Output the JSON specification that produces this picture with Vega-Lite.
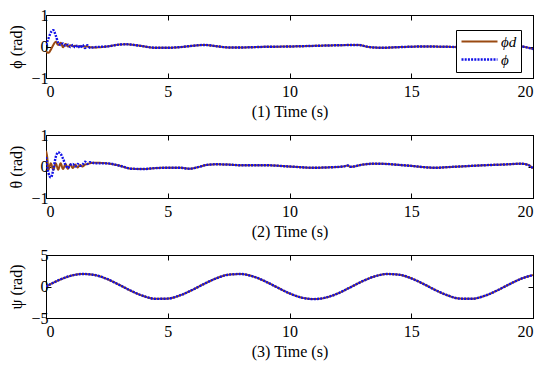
{
  "$schema": "https://vega.github.io/schema/vega-lite/v6.json",
  "background": "white",
  "padding": {"left": 8, "top": 6, "right": 6, "bottom": 4},
  "spacing": 6,
  "config": {
    "font": "Liberation Serif",
    "view": {"stroke": "black", "strokeWidth": 1},
    "axis": {
      "grid": false,
      "domainColor": "black",
      "tickColor": "black",
      "tickSize": -5,
      "labelColor": "black",
      "labelFont": "Liberation Serif",
      "labelFontSize": 16,
      "titleFont": "Liberation Serif",
      "titleFontSize": 16,
      "titleFontWeight": "normal",
      "titleColor": "black",
      "format": "d"
    },
    "legend": {
      "orient": "none",
      "title": null,
      "strokeColor": "black",
      "fillColor": "white",
      "padding": 4,
      "rowPadding": 2,
      "symbolType": "M-1,0H5",
      "symbolSize": 144,
      "symbolStrokeWidth": 2,
      "labelOffset": 26,
      "labelFont": "Liberation Serif",
      "labelFontStyle": "italic",
      "labelFontSize": 15,
      "labelColor": "black",
      "cornerRadius": 0
    }
  },
  "datasets": {
    "phi": [
      {"t": 0, "d": -0.15, "a": 0.05},
      {"t": 0.1, "d": -0.2, "a": 0.25},
      {"t": 0.2, "d": -0.1, "a": 0.45},
      {"t": 0.3, "d": 0.05, "a": 0.52},
      {"t": 0.4, "d": 0.15, "a": 0.35},
      {"t": 0.5, "d": 0.05, "a": 0.12},
      {"t": 0.6, "d": 0.12, "a": 0.05},
      {"t": 0.7, "d": -0.02, "a": 0.1},
      {"t": 0.8, "d": 0.08, "a": 0.02},
      {"t": 0.9, "d": 0.0, "a": 0.06},
      {"t": 1.0, "d": 0.04, "a": -0.02},
      {"t": 1.1, "d": 0.01, "a": 0.05},
      {"t": 1.2, "d": 0.02, "a": -0.03},
      {"t": 1.3, "d": 0.0, "a": 0.04},
      {"t": 1.4, "d": 0.01, "a": -0.04},
      {"t": 1.5, "d": 0.0, "a": 0.05},
      {"t": 1.6, "d": 0.0, "a": -0.05},
      {"t": 1.7, "d": 0.0, "a": 0.04},
      {"t": 1.8, "d": -0.02, "a": -0.04},
      {"t": 2.0, "d": -0.03, "a": -0.02},
      {"t": 2.5, "d": 0.0, "a": 0.0},
      {"t": 3.0, "d": 0.06, "a": 0.06},
      {"t": 3.3, "d": 0.07, "a": 0.07},
      {"t": 3.8, "d": 0.03, "a": 0.03},
      {"t": 4.5, "d": -0.04, "a": -0.04},
      {"t": 5.0, "d": -0.04, "a": -0.04},
      {"t": 5.5, "d": -0.02, "a": -0.02},
      {"t": 6.0, "d": 0.02, "a": 0.02},
      {"t": 6.5, "d": 0.05, "a": 0.05},
      {"t": 7.0, "d": 0.01, "a": 0.01},
      {"t": 7.5, "d": -0.03, "a": -0.03},
      {"t": 8.0, "d": -0.03, "a": -0.03},
      {"t": 9.0, "d": -0.01, "a": -0.01},
      {"t": 10.0, "d": 0.0, "a": 0.0},
      {"t": 11.0, "d": 0.02, "a": 0.02},
      {"t": 12.0, "d": 0.04, "a": 0.04},
      {"t": 12.8, "d": 0.05, "a": 0.05},
      {"t": 13.3, "d": -0.02, "a": -0.02},
      {"t": 13.8, "d": -0.04, "a": -0.04},
      {"t": 14.5, "d": -0.02, "a": -0.02},
      {"t": 15.5, "d": 0.0, "a": 0.0},
      {"t": 16.5, "d": -0.01, "a": -0.01},
      {"t": 17.5, "d": -0.03, "a": -0.03},
      {"t": 18.5, "d": 0.0, "a": 0.0},
      {"t": 19.3, "d": 0.02, "a": 0.02},
      {"t": 19.7, "d": -0.02, "a": -0.02},
      {"t": 20.0, "d": -0.08, "a": -0.08}
    ],
    "theta": [
      {"t": 0, "d": 0.5, "a": 0.3},
      {"t": 0.05, "d": 0.3, "a": 0.0},
      {"t": 0.1, "d": -0.1, "a": -0.2},
      {"t": 0.2, "d": 0.1, "a": -0.35},
      {"t": 0.3, "d": -0.1, "a": -0.1},
      {"t": 0.4, "d": 0.1, "a": 0.3},
      {"t": 0.5, "d": -0.1, "a": 0.45},
      {"t": 0.6, "d": 0.1, "a": 0.4},
      {"t": 0.7, "d": -0.08, "a": 0.25},
      {"t": 0.8, "d": 0.08, "a": 0.05},
      {"t": 0.9, "d": -0.07, "a": -0.05},
      {"t": 1.0, "d": 0.07, "a": 0.05},
      {"t": 1.1, "d": -0.05, "a": 0.08},
      {"t": 1.2, "d": 0.06, "a": 0.0},
      {"t": 1.3, "d": -0.03, "a": 0.08},
      {"t": 1.4, "d": 0.05, "a": 0.02},
      {"t": 1.5, "d": 0.0, "a": 0.06},
      {"t": 1.6, "d": 0.06, "a": 0.15},
      {"t": 1.7, "d": 0.08, "a": 0.08},
      {"t": 1.8, "d": 0.1, "a": 0.14},
      {"t": 2.0, "d": 0.12, "a": 0.1},
      {"t": 2.5, "d": 0.1, "a": 0.1},
      {"t": 3.0, "d": 0.03, "a": 0.03},
      {"t": 3.5, "d": -0.07, "a": -0.07},
      {"t": 4.0, "d": -0.08, "a": -0.08},
      {"t": 4.5, "d": -0.05, "a": -0.05},
      {"t": 5.0, "d": -0.04, "a": -0.04},
      {"t": 5.5, "d": -0.04, "a": -0.04},
      {"t": 5.9, "d": -0.07, "a": -0.07},
      {"t": 6.2, "d": -0.03, "a": -0.03},
      {"t": 6.6, "d": 0.05, "a": 0.05},
      {"t": 7.0, "d": 0.07, "a": 0.07},
      {"t": 7.5, "d": 0.06, "a": 0.06},
      {"t": 8.0, "d": 0.04, "a": 0.04},
      {"t": 9.0, "d": 0.04, "a": 0.04},
      {"t": 10.0, "d": 0.0, "a": 0.0},
      {"t": 11.0, "d": -0.04, "a": -0.04},
      {"t": 11.5, "d": -0.03, "a": -0.03},
      {"t": 12.2, "d": 0.0, "a": 0.0},
      {"t": 12.4, "d": 0.03, "a": 0.03},
      {"t": 12.5, "d": -0.01, "a": -0.01},
      {"t": 13.0, "d": 0.06, "a": 0.06},
      {"t": 13.5, "d": 0.09, "a": 0.09},
      {"t": 14.0, "d": 0.08, "a": 0.08},
      {"t": 14.5, "d": 0.05, "a": 0.05},
      {"t": 15.0, "d": 0.02, "a": 0.02},
      {"t": 15.5, "d": -0.02, "a": -0.02},
      {"t": 16.0, "d": -0.04, "a": -0.04},
      {"t": 16.5, "d": -0.02, "a": -0.02},
      {"t": 17.0, "d": 0.0, "a": 0.0},
      {"t": 18.0, "d": 0.04, "a": 0.04},
      {"t": 19.0, "d": 0.07, "a": 0.07},
      {"t": 19.5, "d": 0.09, "a": 0.09},
      {"t": 19.8, "d": 0.05, "a": 0.05},
      {"t": 20.0, "d": -0.06, "a": -0.06}
    ],
    "psi": [
      {"t": 0, "d": 0, "a": 0},
      {"t": 0.5, "d": 0.96, "a": 0.96},
      {"t": 1, "d": 1.68, "a": 1.68},
      {"t": 1.5, "d": 1.99, "a": 1.99},
      {"t": 2, "d": 1.82, "a": 1.82},
      {"t": 2.5, "d": 1.2, "a": 1.2},
      {"t": 3, "d": 0.28, "a": 0.28},
      {"t": 3.5, "d": -0.7, "a": -0.7},
      {"t": 4, "d": -1.51, "a": -1.51},
      {"t": 4.5, "d": -1.96, "a": -1.96},
      {"t": 5, "d": -1.92, "a": -1.92},
      {"t": 5.5, "d": -1.41, "a": -1.41},
      {"t": 6, "d": -0.56, "a": -0.56},
      {"t": 6.5, "d": 0.43, "a": 0.43},
      {"t": 7, "d": 1.31, "a": 1.31},
      {"t": 7.5, "d": 1.88, "a": 1.88},
      {"t": 8, "d": 1.98, "a": 1.98},
      {"t": 8.5, "d": 1.6, "a": 1.6},
      {"t": 9, "d": 0.82, "a": 0.82},
      {"t": 9.5, "d": -0.15, "a": -0.15},
      {"t": 10, "d": -1.09, "a": -1.09},
      {"t": 10.5, "d": -1.76, "a": -1.76},
      {"t": 11, "d": -2.0, "a": -2.0},
      {"t": 11.5, "d": -1.75, "a": -1.75},
      {"t": 12, "d": -1.07, "a": -1.07},
      {"t": 12.5, "d": -0.13, "a": -0.13},
      {"t": 13, "d": 0.84, "a": 0.84},
      {"t": 13.5, "d": 1.61, "a": 1.61},
      {"t": 14, "d": 1.98, "a": 1.98},
      {"t": 14.5, "d": 1.87, "a": 1.87},
      {"t": 15, "d": 1.3, "a": 1.3},
      {"t": 15.5, "d": 0.41, "a": 0.41},
      {"t": 16, "d": -0.58, "a": -0.58},
      {"t": 16.5, "d": -1.42, "a": -1.42},
      {"t": 17, "d": -1.92, "a": -1.92},
      {"t": 17.5, "d": -1.95, "a": -1.95},
      {"t": 18, "d": -1.5, "a": -1.5},
      {"t": 18.5, "d": -0.68, "a": -0.68},
      {"t": 19, "d": 0.3, "a": 0.3},
      {"t": 19.5, "d": 1.21, "a": 1.21},
      {"t": 20, "d": 1.83, "a": 1.83}
    ]
  },
  "vconcat": [
    {
      "width": 487, "height": 63,
      "data": {"name": "phi"},
      "transform": [{"fold": ["d", "a"], "as": ["key", "v"]}],
      "layer": [
        {
          "mark": {"type": "line", "interpolate": "monotone", "clip": true},
          "encoding": {
            "x": {"field": "t", "type": "quantitative", "scale": {"domain": [0, 20], "nice": false},
                  "axis": {"values": [0, 5, 10, 15, 20], "title": "(1) Time (s)", "labelPadding": 10, "titlePadding": 4}},
            "y": {"field": "v", "type": "quantitative", "scale": {"domain": [-1, 1], "nice": false},
                  "axis": {"values": [-1, 0, 1], "title": "ϕ (rad)", "labelPadding": 3, "titlePadding": 6}},
            "color": {"field": "key", "type": "nominal", "scale": {"domain": ["d", "a"], "range": ["#9A4A12", "#1010E8"]},
                      "legend": {"legendX": 410, "legendY": 15, "labelExpr": "datum.label == 'd' ? 'ϕd' : 'ϕ'"}},
            "strokeDash": {"field": "key", "type": "nominal", "scale": {"domain": ["d", "a"], "range": [[1, 0], [2, 1.2]]}},
            "strokeWidth": {"field": "key", "type": "nominal", "scale": {"domain": ["d", "a"], "range": [2, 2.4]}, "legend": null}
          }
        },
        {
          "mark": {"type": "line", "opacity": 0},
          "encoding": {
            "x": {"field": "t", "type": "quantitative", "axis": {"orient": "top", "labels": false, "title": null, "values": [0, 5, 10, 15, 20]}},
            "y": {"field": "v", "type": "quantitative", "axis": {"orient": "right", "labels": false, "title": null, "values": [-1, 0, 1]}},
            "detail": {"field": "key"}
          }
        }
      ],
      "resolve": {"axis": {"x": "independent", "y": "independent"}}
    },
    {
      "width": 487, "height": 63,
      "data": {"name": "theta"},
      "transform": [{"fold": ["d", "a"], "as": ["key", "v"]}],
      "layer": [
        {
          "mark": {"type": "line", "interpolate": "monotone", "clip": true},
          "encoding": {
            "x": {"field": "t", "type": "quantitative", "scale": {"domain": [0, 20], "nice": false},
                  "axis": {"values": [0, 5, 10, 15, 20], "title": "(2) Time (s)", "labelPadding": 10, "titlePadding": 4}},
            "y": {"field": "v", "type": "quantitative", "scale": {"domain": [-1, 1], "nice": false},
                  "axis": {"values": [-1, 0, 1], "title": "θ (rad)", "labelPadding": 3, "titlePadding": 6}},
            "color": {"field": "key", "type": "nominal", "scale": {"domain": ["d", "a"], "range": ["#9A4A12", "#1010E8"]},
                      "legend": {"legendX": 412, "legendY": 14, "labelExpr": "datum.label == 'd' ? 'θd' : 'θ'"}},
            "strokeDash": {"field": "key", "type": "nominal", "scale": {"domain": ["d", "a"], "range": [[1, 0], [2, 1.2]]}},
            "strokeWidth": {"field": "key", "type": "nominal", "scale": {"domain": ["d", "a"], "range": [2, 2.4]}, "legend": null}
          }
        },
        {
          "mark": {"type": "line", "opacity": 0},
          "encoding": {
            "x": {"field": "t", "type": "quantitative", "axis": {"orient": "top", "labels": false, "title": null, "values": [0, 5, 10, 15, 20]}},
            "y": {"field": "v", "type": "quantitative", "axis": {"orient": "right", "labels": false, "title": null, "values": [-1, 0, 1]}},
            "detail": {"field": "key"}
          }
        }
      ],
      "resolve": {"axis": {"x": "independent", "y": "independent"}}
    },
    {
      "width": 487, "height": 63,
      "data": {"name": "psi"},
      "transform": [{"fold": ["d", "a"], "as": ["key", "v"]}],
      "layer": [
        {
          "mark": {"type": "line", "interpolate": "monotone", "clip": true},
          "encoding": {
            "x": {"field": "t", "type": "quantitative", "scale": {"domain": [0, 20], "nice": false},
                  "axis": {"values": [0, 5, 10, 15, 20], "title": "(3) Time (s)", "labelPadding": 10, "titlePadding": 4}},
            "y": {"field": "v", "type": "quantitative", "scale": {"domain": [-5, 5], "nice": false},
                  "axis": {"values": [-5, 0, 5], "title": "ψ (rad)", "labelPadding": 3, "titlePadding": 6}},
            "color": {"field": "key", "type": "nominal", "scale": {"domain": ["d", "a"], "range": ["#9A4A12", "#1010E8"]},
                      "legend": {"legendX": 410, "legendY": 15, "labelExpr": "datum.label == 'd' ? 'ψd' : 'ψ'"}},
            "strokeDash": {"field": "key", "type": "nominal", "scale": {"domain": ["d", "a"], "range": [[1, 0], [2, 1.2]]}},
            "strokeWidth": {"field": "key", "type": "nominal", "scale": {"domain": ["d", "a"], "range": [2, 2.4]}, "legend": null}
          }
        },
        {
          "mark": {"type": "line", "opacity": 0},
          "encoding": {
            "x": {"field": "t", "type": "quantitative", "axis": {"orient": "top", "labels": false, "title": null, "values": [0, 5, 10, 15, 20]}},
            "y": {"field": "v", "type": "quantitative", "axis": {"orient": "right", "labels": false, "title": null, "values": [-5, 0, 5]}},
            "detail": {"field": "key"}
          }
        }
      ],
      "resolve": {"axis": {"x": "independent", "y": "independent"}}
    }
  ]
}
